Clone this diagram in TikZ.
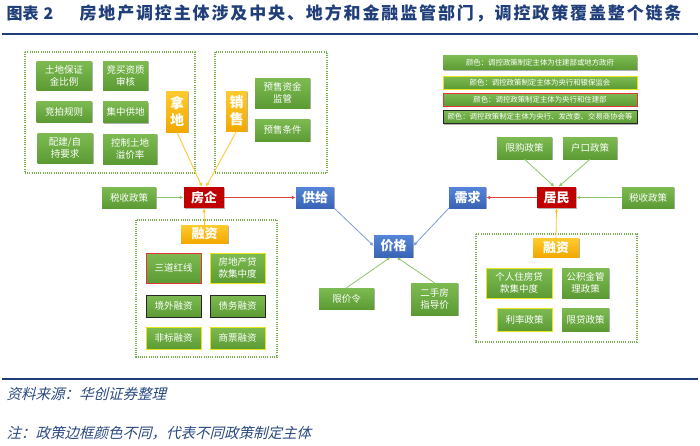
\documentclass[tikz,border=0pt]{standalone}
\usepackage{fontspec}
\setmainfont{Noto Sans CJK SC}
\newfontfamily\titlefont[LetterSpace=11]{Noto Sans CJK SC}
\newfontfamily\notefont[FakeSlant=0.25]{Noto Sans CJK SC}
\usetikzlibrary{arrows.meta, shadows}
\usepackage{xcolor}

\definecolor{grtop}{HTML}{7DBB52}
\definecolor{grbot}{HTML}{5C9A34}
\definecolor{yltop}{HTML}{FFCB2E}
\definecolor{ylbot}{HTML}{F2A800}
\definecolor{bltop}{HTML}{5585D8}
\definecolor{blbot}{HTML}{3A64B6}
\definecolor{keyred}{HTML}{C00000}
\definecolor{dotgreen}{HTML}{78B04E}
\definecolor{lngreen}{HTML}{8DC66B}
\definecolor{lnred}{HTML}{E04040}
\definecolor{lnyellow}{HTML}{FFC425}
\definecolor{lnblue}{HTML}{7C9BD8}
\definecolor{bdyellow}{HTML}{E8E41C}
\definecolor{bdred}{HTML}{E53535}
\definecolor{titleblue}{HTML}{1F3E7A}
\definecolor{noteblue}{HTML}{2B4A82}

\tikzset{
  boxshadow/.style={drop shadow={shadow xshift=1pt, shadow yshift=-1.2pt, opacity=0.3, fill=black}},
  policy/.style={top color=grtop, bottom color=grbot, text=white, align=center, inner sep=0pt,
    font=\fontsize{9.5}{12}\selectfont, minimum width=55pt, minimum height=22pt, boxshadow},
  ybd/.style={draw=bdyellow, line width=1pt},
  rbd/.style={draw=bdred, line width=1pt},
  kbd/.style={draw=black!85, line width=1pt},
  legend/.style={policy, font=\fontsize{7.4}{9}\selectfont, minimum width=194pt, minimum height=14pt},
  keynode/.style={text=white, inner sep=0pt, font=\bfseries\fontsize{13}{14}\selectfont,
    minimum height=21pt, boxshadow},
  redkey/.style={keynode, fill=keyred},
  bluekey/.style={keynode, top color=bltop, bottom color=blbot},
  yellowkey/.style={keynode, top color=yltop, bottom color=ylbot, align=center},
  group/.style={draw=dotgreen, line width=1.1pt, dash pattern=on 1pt off 1.2pt},
  arr/.style={-{Latex[length=4pt, width=3.4pt]}, line width=0.8pt}
}

\begin{document}
\begin{tikzpicture}[x=1pt, y=-1pt]
  \useasboundingbox[fill=white] (0,0) rectangle (700,445);

  % title and rules
  \node[anchor=west, text=titleblue, font=\bfseries\fontsize{16}{18}\selectfont] (tnum) at (3,13) {图表\hspace{5pt}2};
  \node[anchor=west, text=titleblue, font=\titlefont\bfseries\fontsize{17}{18}\selectfont] (ttext) at (76,13)
    {房地产调控主体涉及中央、地方和金融监管部门，调控政策覆盖整个链条};
  \draw[titleblue, line width=1.6pt] (2,34) -- (698,34);
  \draw[titleblue, line width=1.6pt] (2,379) -- (698,379);
  \node[anchor=west, text=noteblue, font=\notefont\fontsize{14.5}{16}\selectfont] (source) at (3,394) {资料来源：华创证券整理};
  \node[anchor=west, text=noteblue, font=\notefont\fontsize{14.5}{16}\selectfont] (note) at (3,433) {注：政策边框颜色不同，代表不同政策制定主体};

  % dotted groups
  \draw[group] (25,52) rectangle (195,173);
  \draw[group] (215,52) rectangle (327,173);
  \draw[group] (136,220) rectangle (277,357);
  \draw[group] (476,234) rectangle (637,342);

  % land
  \node[policy, minimum height=29pt] (deposit) at (64,75.5) {土地保证\\金比例};
  \node[policy, minimum width=45pt, minimum height=29pt] (qualify) at (125.5,75.5) {竞买资质\\审核};
  \node[policy, minimum height=21pt] (auction) at (64,111.5) {竞拍规则};
  \node[policy, minimum width=45pt, minimum height=21pt] (central) at (125.5,112) {集中供地};
  \node[policy, minimum height=30pt] (selfhold) at (65,148) {配建/自\\持要求};
  \node[policy, minimum width=54pt, minimum height=30pt] (premium) at (130,149) {控制土地\\溢价率};
  \node[yellowkey, minimum width=22pt, minimum height=41pt, font=\bfseries\fontsize{14}{17}\selectfont] (nadi) at (177,111.5) {拿\\地};

  % sales
  \node[yellowkey, minimum width=21pt, minimum height=40pt, font=\bfseries\fontsize{14}{17}\selectfont] (xiaoshou) at (236.5,111) {销\\售};
  \node[policy, minimum height=30pt] (escrow) at (282.5,93) {预售资金\\监管};
  \node[policy] (presale) at (282.5,130) {预售条件};

  % developer side
  \node[redkey, minimum width=40pt] (fangqi) at (204,197.5) {房企};
  \node[policy, minimum width=54pt, minimum height=21pt] (taxL) at (129,197.5) {税收政策};
  \node[bluekey, minimum width=38pt] (gongji) at (315,197.5) {供给};
  \node[yellowkey, minimum width=47pt, minimum height=18pt] (rongziL) at (204.5,234) {融资};
  \node[policy, rbd, minimum height=30pt] (redline) at (173.5,268) {三道红线};
  \node[policy, ybd, minimum height=30pt] (loanconc) at (237.5,268) {房地产贷\\款集中度};
  \node[policy, kbd] (overseas) at (173.5,306) {境外融资};
  \node[policy, kbd] (debt) at (237.5,306) {债务融资};
  \node[policy, ybd] (nonstd) at (173.5,338) {非标融资};
  \node[policy, ybd] (bills) at (237.5,338) {商票融资};

  % price
  \node[bluekey, minimum width=39pt, minimum height=22pt] (jiage) at (393.5,246) {价格};
  \node[policy, minimum height=21pt] (cap) at (346.5,298.5) {限价令};
  \node[policy, minimum width=47pt, minimum height=32pt] (guide) at (434.5,299) {二手房\\指导价};

  % household side
  \node[bluekey, minimum width=37pt] (xuqiu) at (467.5,197.5) {需求};
  \node[redkey, minimum width=39pt] (jumin) at (556.5,197.5) {居民};
  \node[policy] (purchase) at (524.5,148) {限购政策};
  \node[policy, minimum width=54pt] (hukou) at (590,148) {户口政策};
  \node[policy, minimum width=52pt, minimum height=21pt] (taxR) at (648,197.5) {税收政策};
  \node[yellowkey, minimum width=46pt, minimum height=19pt] (rongziR) at (556,247.5) {融资};
  \node[policy, ybd, minimum width=66pt, minimum height=30pt] (mortgage) at (519,283) {个人住房贷\\款集中度};
  \node[policy, minimum width=47pt, minimum height=30pt] (fund) at (585.5,283) {公积金管\\理政策};
  \node[policy, ybd, minimum height=23pt] (rate) at (524.5,319.5) {利率政策};
  \node[policy, minimum width=47pt, minimum height=23pt] (limitloan) at (585.5,319.5) {限贷政策};

  % legend
  \node[legend] (leg1) at (540,62.5) {颜色：调控政策制定主体为住建部或地方政府};
  \node[legend, ybd, minimum height=13pt] (leg2) at (540,82.5) {颜色：调控政策制定主体为央行和银保监会};
  \node[legend, rbd, minimum height=13pt] (leg3) at (540,99.5) {颜色：调控政策制定主体为央行和住建部};
  \node[legend, kbd, minimum height=13pt] (leg4) at (540,117) {颜色：调控政策制定主体为央行、发改委、交易商协会等};

  % connectors
  \draw[arr, lnyellow] (nadi.south) -- ([xshift=-2pt]fangqi.north);
  \draw[arr, lnyellow] (xiaoshou.south) -- ([xshift=2pt]fangqi.north);
  \draw[arr, lnyellow] (rongziL.north) -- (fangqi.south);
  \draw[arr, lngreen] (taxL.east) -- (fangqi.west);
  \draw[arr, lnred] (fangqi.east) -- (gongji.west);
  \draw[arr, lnblue] (gongji.south east) -- (jiage.west);
  \draw[arr, lnblue] (xuqiu.south west) -- (jiage.east);
  \draw[arr, lngreen] (cap.north) -- ([xshift=-3pt]jiage.south);
  \draw[arr, lngreen] (guide.north) -- ([xshift=3pt]jiage.south);
  \draw[arr, lnred] (jumin.west) -- (xuqiu.east);
  \draw[arr, lngreen] (purchase.south) -- ([xshift=-2pt]jumin.north);
  \draw[arr, lngreen] (hukou.south) -- ([xshift=2pt]jumin.north);
  \draw[arr, lngreen] (taxR.west) -- (jumin.east);
  \draw[arr, lnyellow] (rongziR.north) -- (jumin.south);
\end{tikzpicture}
\end{document}
